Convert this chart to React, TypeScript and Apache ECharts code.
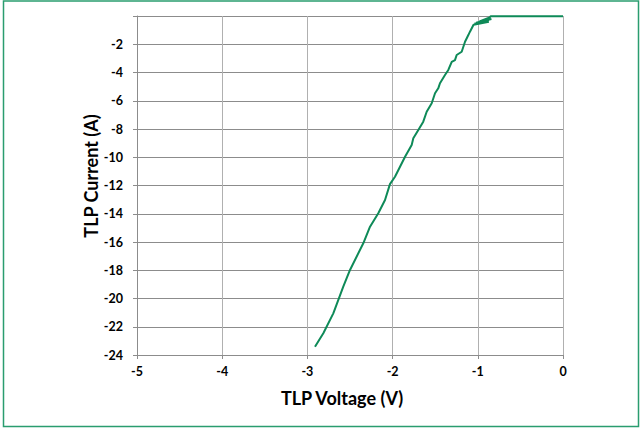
import React, { useEffect, useRef } from "react";
import * as echarts from "echarts";

const voltage = [
  0, -0.85, -0.86, -0.98, -0.84, -1.02, -0.88, -1.04, -0.87, -1.05,
  -1.053, -1.092, -1.111, -1.15, -1.189, -1.248, -1.268, -1.306, -1.346, -1.385,
  -1.444, -1.464, -1.502, -1.541, -1.6, -1.64, -1.698, -1.757, -1.776, -1.854,
  -1.972, -2.031, -2.089, -2.168, -2.265, -2.344, -2.5, -2.579, -2.696, -2.813, -2.911,
];
const current = [
  -0.02, -0.02, -0.1, -0.38, -0.22, -0.48, -0.32, -0.55, -0.4, -0.62,
  -0.64, -1.11, -1.35, -1.82, -2.53, -2.76, -3.12, -3.24, -3.82, -4.18,
  -4.76, -5.12, -5.47, -6.18, -6.78, -7.48, -8.07, -8.66, -9.13, -9.96,
  -11.38, -11.9, -13.03, -13.97, -14.92, -16.09, -17.98, -19.16, -21.05, -22.46, -23.41,
];
const xTicks = { min: -5, max: 0, interval: 1 };
const yTicks = { min: -24, max: 0, interval: 2 };
const xName = "TLP Voltage (V)";
const yName = "TLP Current (A)";

export default function App() {
  const ref = useRef<HTMLDivElement>(null);
  useEffect(() => {
    if (!ref.current) return;
    const chart = echarts.init(ref.current, undefined, { renderer: "svg" });
    const font = "Lato, 'Liberation Sans', sans-serif";
    chart.setOption({
      animation: false,
      backgroundColor: "#ffffff",
      textStyle: { fontFamily: font },
      grid: { left: 137, right: 79, top: 16, bottom: 73 },
      graphic: [
        {
          type: "rect",
          shape: { x: 3.5, y: 1, width: 635, height: 425.5 },
          style: { fill: "none", stroke: "#2a9d6f", lineWidth: 1.5 },
          silent: true,
        },
        {
          type: "text",
          x: 342,
          y: 398,
          style: {
            text: xName,
            fontFamily: font,
            fontWeight: "bold",
            fontSize: 18,
            fill: "#000",
            align: "center",
            verticalAlign: "middle",
          },
        },
        {
          type: "text",
          x: 91,
          y: 176,
          rotation: Math.PI / 2,
          style: {
            text: yName,
            fontFamily: font,
            fontWeight: "bold",
            fontSize: 18,
            fill: "#000",
            align: "center",
            verticalAlign: "middle",
          },
        },
      ],
      xAxis: {
        type: "value",
        min: xTicks.min,
        max: xTicks.max,
        interval: xTicks.interval,
        axisLine: { show: true, onZero: false, lineStyle: { color: "#8c8c8c", width: 1 } },
        axisTick: { show: true, length: 4, lineStyle: { color: "#8c8c8c" } },
        axisLabel: { fontFamily: font, fontWeight: "bold", fontSize: 12.5, color: "#000", margin: 10 },
        splitLine: { show: true, lineStyle: { color: "#b0b0b0", width: 1 } },
      },
      yAxis: {
        type: "value",
        min: yTicks.min,
        max: yTicks.max,
        interval: yTicks.interval,
        axisLine: { show: true, onZero: false, lineStyle: { color: "#8c8c8c", width: 1 } },
        axisTick: { show: true, length: 4, lineStyle: { color: "#8c8c8c" } },
        axisLabel: {
          fontFamily: font,
          fontWeight: "bold",
          fontSize: 12.5,
          color: "#000",
          margin: 14,
          formatter: (v: number) => (v === 0 ? "" : String(v)),
        },
        splitLine: { show: true, lineStyle: { color: "#8c8c8c", width: 1 } },
      },
      series: [
        {
          type: "line",
          data: voltage.map((v, i) => [v, current[i]]),
          showSymbol: false,
          symbol: "none",
          lineStyle: { color: "#0e8a58", width: 2 },
          smooth: false,
        },
      ],
    });
    return () => chart.dispose();
  }, []);
  return (
    <div
      ref={ref}
      style={{ position: "absolute", left: 0, top: 0, width: 642, height: 428 }}
    />
  );
}
